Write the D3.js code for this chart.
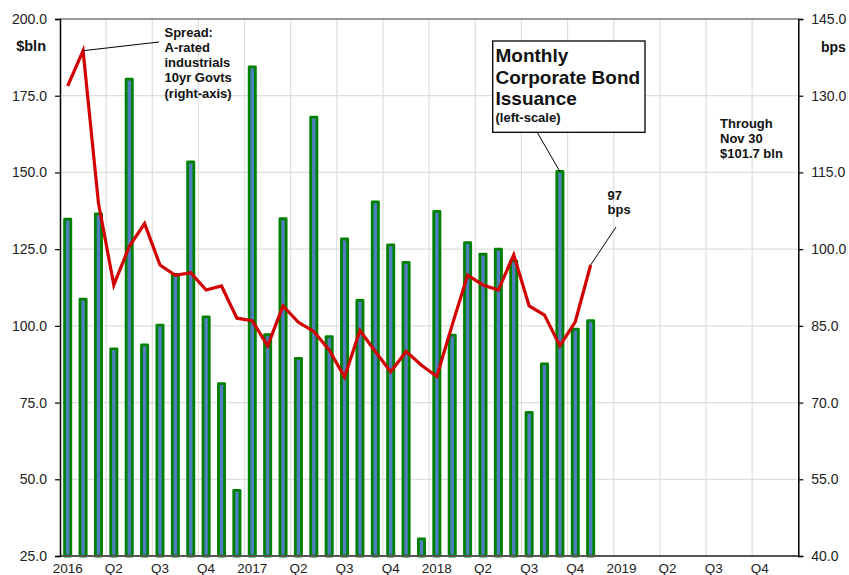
<!DOCTYPE html>
<html><head><meta charset="utf-8">
<script src="https://cdn.jsdelivr.net/npm/d3@7"></script>
<style>
body{margin:0;background:#fff;}
svg{display:block;font-family:Arial,"Liberation Sans",sans-serif;}
</style></head>
<body>
<svg id="chart" width="849" height="575"></svg>
<script>
// ---- data ----
const months = [];
for (let y = 2016; y <= 2019; y++) for (let m = 1; m <= 12; m++) months.push(y + "-" + String(m).padStart(2, "0"));
const issuance = [134.8,108.7,136.5,92.5,180.4,93.8,100.2,116.8,153.4,102.9,81.2,46.4,
                  184.4,97.1,134.9,89.4,168.0,96.5,128.3,108.3,140.4,126.4,120.7,30.6,
                  137.3,97.0,127.1,123.4,125.0,121.1,71.8,87.6,150.3,98.9,101.7];
const spread = [131.9,138.8,109.0,93.0,100.5,105.0,96.9,94.9,95.4,92.0,92.8,86.5,
                86.0,81.1,88.9,85.7,83.9,80.3,75.0,84.1,80.0,76.0,80.0,77.3,
                75.1,85.2,94.9,93.0,92.0,98.9,88.9,87.1,81.1,85.8,96.9];
const leftTicks = [25,50,75,100,125,150,175,200];
const rightTicks = [40,55,70,85,100,115,130,145];
const quarterLabels = ["2016","Q2","Q3","Q4","2017","Q2","Q3","Q4","2018","Q2","Q3","Q4","2019","Q2","Q3","Q4"];

// ---- layout ----
const L = 60, R = 798.3, T = 19, B = 556;
const svg = d3.select("#chart");
const x = d3.scaleBand().domain(months).range([L, R]).padding(0);
const yL = d3.scaleLinear().domain([25, 200]).range([B, T]);
const yR = d3.scaleLinear().domain([40, 145]).range([B, T]);
const qMonths = months.filter((d, i) => i % 3 === 0);
const labelOf = new Map(qMonths.map((m, i) => [m, quarterLabels[i]]));

// grid
const grid = svg.append("g").attr("stroke", "#dedede").attr("stroke-width", 1.2);
grid.selectAll("line.h").data(leftTicks.slice(1, -1)).join("line")
  .attr("x1", L).attr("x2", R).attr("y1", d => yL(d)).attr("y2", d => yL(d));
grid.selectAll("line.v").data(qMonths.slice(1)).join("line")
  .attr("x1", d => x(d)).attr("x2", d => x(d)).attr("y1", T).attr("y2", B);

// bars
const bw = 6.2;
svg.append("g").selectAll("rect").data(issuance).join("rect")
  .attr("x", (d, i) => x(months[i]) + x.bandwidth() / 2 - bw / 2)
  .attr("width", bw)
  .attr("y", d => yL(d))
  .attr("height", d => B - yL(d))
  .attr("fill", "#4f7fc0")
  .attr("stroke", "#008000")
  .attr("stroke-width", 2.8)
  .attr("stroke-linejoin", "round");

// spread line
const line = d3.line().x((d, i) => x(months[i]) + x.bandwidth() / 2).y(d => yR(d));
svg.append("path").datum(spread).attr("d", line)
  .attr("fill", "none").attr("stroke", "#d20000").attr("stroke-width", 3.2)
  .attr("stroke-linejoin", "miter");

// frame
svg.append("line").attr("x1", L).attr("x2", R).attr("y1", T).attr("y2", T).attr("stroke", "#333").attr("stroke-width", 1.2);
svg.append("line").attr("x1", L).attr("x2", R).attr("y1", B).attr("y2", B).attr("stroke", "#555").attr("stroke-width", 2);

// axes
const fmt = d3.format(".1f");
const axL = svg.append("g").attr("transform", `translate(${L},0)`)
  .call(d3.axisLeft(yL).tickValues(leftTicks).tickFormat(fmt).tickSize(5).tickPadding(8));
const axR = svg.append("g").attr("transform", `translate(${R},0)`)
  .call(d3.axisRight(yR).tickValues(rightTicks).tickFormat(fmt).tickSize(5).tickPadding(8));
const axB = svg.append("g").attr("transform", `translate(0,${B})`)
  .call(d3.axisBottom(x).tickValues(qMonths).tickFormat(d => labelOf.get(d)).tickSize(0).tickPadding(7));
[axL, axR].forEach(a => {
  a.select(".domain").attr("stroke", "#000").attr("stroke-width", 1.5);
  a.selectAll(".tick line").attr("stroke", "#000").attr("stroke-width", 1.2);
});
axB.select(".domain").remove();
[axL, axR, axB].forEach(a => a.selectAll("text").attr("font-size", 14).attr("fill", "#222").attr("font-family", "Arial, 'Liberation Sans', sans-serif"));
axB.selectAll("text").attr("font-size", 13.5);

// annotations
function multi(lines, x0, y0, dy, size, anchor) {
  const t = svg.append("text").attr("font-size", size).attr("font-weight", "bold").attr("fill", "#111")
    .attr("text-anchor", anchor || "start");
  lines.forEach((s, i) => t.append("tspan").attr("x", x0).attr("y", y0 + i * dy).text(s));
  return t;
}
multi(["$bln"], 46, 51, 0, 14.5, "end");
multi(["bps"], 821, 52, 0, 14, "start");
multi(["Spread:", "A-rated", "industrials", "10yr Govts", "(right-axis)"], 164.5, 36.5, 15.3, 13);
svg.append("line").attr("x1", 159).attr("y1", 42).attr("x2", x(months[1]) + x.bandwidth() / 2).attr("y2", yR(spread[1]))
  .attr("stroke", "#000").attr("stroke-width", 1);

// box annotation
svg.append("line").attr("x1", 537).attr("y1", 132).attr("x2", x(months[32]) + x.bandwidth() / 2).attr("y2", yL(issuance[32]))
  .attr("stroke", "#000").attr("stroke-width", 1);
svg.append("rect").attr("x", 492.7).attr("y", 41).attr("width", 152.3).attr("height", 91.3)
  .attr("fill", "#fff").attr("stroke", "#000").attr("stroke-width", 1.3);
multi(["Monthly", "Corporate Bond", "Issuance"], 495.5, 62, 21.5, 19);
multi(["(left-scale)"], 495.5, 122, 0, 13);

multi(["Through", "Nov 30", "$101.7 bln"], 720, 127.8, 15, 13);
multi(["97", "bps"], 607.5, 199.5, 14.2, 13);
svg.append("line").attr("x1", 616).attr("y1", 227).attr("x2", x(months[34]) + x.bandwidth() / 2).attr("y2", yR(spread[34]))
  .attr("stroke", "#000").attr("stroke-width", 1);
</script>
</body></html>
